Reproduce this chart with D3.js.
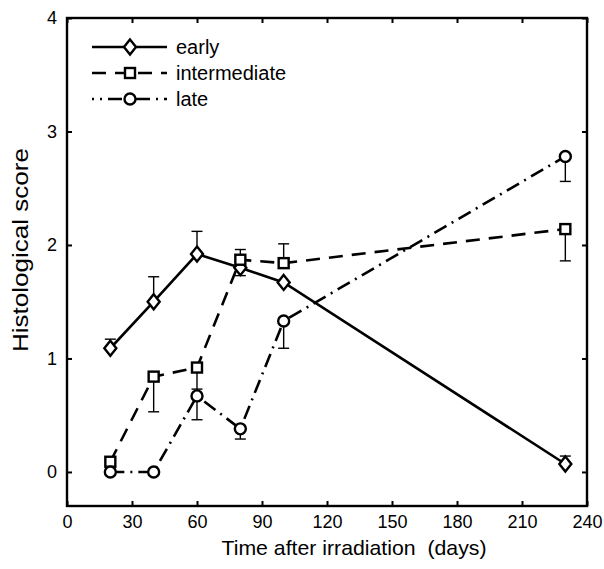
<!DOCTYPE html>
<html><head><meta charset="utf-8">
<script src="https://cdn.jsdelivr.net/npm/d3@7"></script>
<style>body{margin:0;background:#fff}svg{display:block}text{font-family:"Liberation Sans",Arial,Helvetica,sans-serif;fill:#000}</style>
</head><body><svg id="c" width="604" height="569"></svg>
<script>
const days = [20, 40, 60, 80, 100, 230];
const early = [1.09, 1.50, 1.92, 1.80, 1.67, 0.07];
const earlyErr = [0.08, 0.22, 0.20, -0.07, 0, 0.07];
const intermediate = [0.09, 0.84, 0.92, 1.87, 1.84, 2.14];
const intermediateErr = [0, -0.31, -0.19, 0.09, 0.17, -0.28];
const late = [0, 0, 0.67, 0.38, 1.33, 2.78];
const lateErr = [0, 0, -0.21, -0.09, -0.24, -0.22];
const xTicks = [0, 30, 60, 90, 120, 150, 180, 210, 240];
const yTicks = [0, 1, 2, 3, 4];
const seriesNames = ["early", "intermediate", "late"];

const svg = d3.select("#c");
const x = d3.scaleLinear().domain([0, 240]).range([67, 587]);
const y = d3.scaleLinear().domain([-0.3, 4]).range([506, 18]);

const series = [
  {name: seriesNames[0], v: early, e: earlyErr, dash: null, marker: "diamond"},
  {name: seriesNames[1], v: intermediate, e: intermediateErr, dash: "14,9", marker: "square"},
  {name: seriesNames[2], v: late, e: lateErr, dash: "14,6,2,6", marker: "circle"}
];

function drawMarker(g, type, cx, cy) {
  if (type === "diamond") {
    g.append("path").attr("d", `M${cx},${cy-7.5}L${cx+6},${cy}L${cx},${cy+7.5}L${cx-6},${cy}Z`)
      .attr("fill", "#fff").attr("stroke", "#000").attr("stroke-width", 2.4);
  } else if (type === "square") {
    g.append("rect").attr("x", cx-5).attr("y", cy-5).attr("width", 10).attr("height", 10)
      .attr("fill", "#fff").attr("stroke", "#000").attr("stroke-width", 2.4);
  } else {
    g.append("circle").attr("cx", cx).attr("cy", cy).attr("r", 5.5)
      .attr("fill", "#fff").attr("stroke", "#000").attr("stroke-width", 2.4);
  }
}

// frame
svg.append("rect").attr("x", x(0)).attr("y", y(4)).attr("width", x(240)-x(0)).attr("height", y(-0.3)-y(4))
  .attr("fill", "none").attr("stroke", "#000").attr("stroke-width", 2.4);

// axes
const xb = svg.append("g").attr("transform", `translate(0,${y(-0.3)})`)
  .call(d3.axisBottom(x).tickValues(xTicks).tickSize(-5).tickPadding(9).tickFormat(d3.format("d")));
const xt = svg.append("g").attr("transform", `translate(0,${y(4)})`)
  .call(d3.axisTop(x).tickValues(xTicks).tickSize(-5).tickFormat(""));
const yl = svg.append("g").attr("transform", `translate(${x(0)},0)`)
  .call(d3.axisLeft(y).tickValues(yTicks).tickSize(-5).tickPadding(10).tickFormat(d3.format("d")));
const yr = svg.append("g").attr("transform", `translate(${x(240)},0)`)
  .call(d3.axisRight(y).tickValues(yTicks).tickSize(-5).tickFormat(""));
[xb, xt, yl, yr].forEach(a => {
  a.select(".domain").remove();
  a.selectAll(".tick line").attr("stroke", "#000").attr("stroke-width", 2);
  a.selectAll("text").attr("fill", "#000").style("font-size", "18px").style("font-family", '"Liberation Sans",Arial,sans-serif');
});

// lines
const line = d3.line().x((d, i) => x(days[i])).y(d => y(d));
series.forEach(s => {
  svg.append("path").datum(s.v).attr("d", line).attr("fill", "none")
    .attr("stroke", "#000").attr("stroke-width", 2.6)
    .attr("stroke-dasharray", s.dash);
});

// error bars
series.forEach(s => {
  s.v.forEach((v, i) => {
    if (!s.e[i]) return;
    const cx = x(days[i]);
    const y0 = y(v), y1 = y(v + s.e[i]);
    svg.append("line").attr("x1", cx).attr("x2", cx).attr("y1", y0).attr("y2", y1)
      .attr("stroke", "#000").attr("stroke-width", 1.4);
    svg.append("line").attr("x1", cx-5.5).attr("x2", cx+5.5).attr("y1", y1).attr("y2", y1)
      .attr("stroke", "#000").attr("stroke-width", 1.4);
  });
});

// markers
series.forEach(s => {
  const g = svg.append("g");
  s.v.forEach((v, i) => drawMarker(g, s.marker, x(days[i]), y(v)));
});

// legend
const legY = [47, 73, 99];
series.forEach((s, i) => {
  const g = svg.append("g");
  g.append("line").attr("x1", 92).attr("x2", 167).attr("y1", legY[i]).attr("y2", legY[i])
    .attr("stroke", "#000").attr("stroke-width", 2.6).attr("stroke-dasharray", s.dash)
    .attr("stroke-dashoffset", i === 2 ? 12 : 0);
  drawMarker(g, s.marker, 130, legY[i]);
  g.append("text").attr("x", 176).attr("y", legY[i] + 7).attr("fill", "#000").style("font-size", "20px").text(s.name);
});

// axis titles
svg.append("text").attr("x", 354).attr("y", 555).attr("text-anchor", "middle").attr("fill", "#000")
  .style("font-size", "21px").style("white-space", "pre").attr("textLength", 265).attr("lengthAdjust", "spacingAndGlyphs")
  .text("Time after irradiation\u00a0 (days)");
svg.append("text").attr("transform", "translate(28,250) rotate(-90)").attr("text-anchor", "middle").attr("fill", "#000")
  .style("font-size", "22px").attr("textLength", 204).attr("lengthAdjust", "spacingAndGlyphs")
  .text("Histological score");
</script></body></html>
